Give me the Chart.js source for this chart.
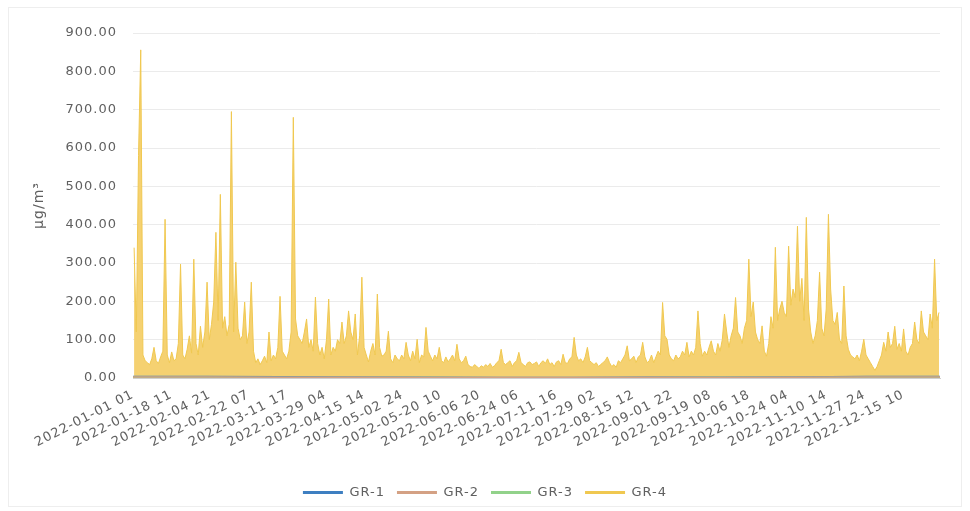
<!DOCTYPE html>
<html>
<head>
<meta charset="utf-8">
<script src="https://cdn.jsdelivr.net/npm/chart.js@4.4.1/dist/chart.umd.min.js"></script>
<style>
  html, body { margin: 0; padding: 0; background: #ffffff; }
  #wrap { width: 970px; height: 511px; position: relative; }
</style>
</head>
<body>
<div id="wrap"><canvas id="c" width="970" height="511"></canvas></div>
<script>
// Hourly PM series for four stations, 2022 (record 0 = 2022-01-01 01)
const seriesNames = ['GR-1', 'GR-2', 'GR-3', 'GR-4'];
const seriesColors = ['#3E7FC1', '#D4A184', '#92D28A', '#F0C850'];

// Labels shown on the time axis, one every 418 hourly records
const tickLabels = [
  '2022-01-01 01', '2022-01-18 11', '2022-02-04 21', '2022-02-22 07',
  '2022-03-11 17', '2022-03-29 04', '2022-04-15 14', '2022-05-02 24',
  '2022-05-20 10', '2022-06-06 20', '2022-06-24 06', '2022-07-11 16',
  '2022-07-29 02', '2022-08-15 12', '2022-09-01 22', '2022-09-19 08',
  '2022-10-06 18', '2022-10-24 04', '2022-11-10 14', '2022-11-27 24',
  '2022-12-15 10'
];
const recordsPerTick = 418;
const totalRecords = 8759;

// GR-4: daily peak concentration (µg/m³), day 0 = 1 Jan
const gr4Daily = [
  340, 120, 580, 856, 60, 45, 40, 35, 50, 80,
  45, 38, 55, 70, 414, 60, 40, 68, 45, 50,
  90, 297, 60, 50, 75, 110, 65, 310, 90, 60,
  135, 80, 120, 250, 100, 140, 198, 380, 150, 479,
  130, 160, 110, 140, 695, 120, 302, 130, 100, 110,
  198, 90, 120, 250, 70, 40, 50, 35, 45, 57,
  40, 120, 45, 60, 50, 80, 213, 70, 60, 50,
  70, 120, 680, 154, 110, 100, 90, 120, 154, 80,
  100, 70, 211, 90, 60, 80, 50, 100, 206, 60,
  80, 70, 100, 90, 146, 90, 110, 175, 120, 100,
  167, 60, 110, 263, 80, 60, 42, 70, 90, 60,
  219, 80, 57, 60, 70, 122, 50, 40, 60, 50,
  45, 60, 50, 93, 60, 45, 70, 50, 101, 40,
  60, 55, 132, 70, 57, 45, 60, 50, 80, 45,
  40, 55, 42, 50, 60, 45, 88, 50, 40, 45,
  57, 35, 30, 28, 35, 30, 25, 32, 28, 35,
  30, 38, 28, 32, 40, 45, 75, 40, 35, 40,
  45, 30, 40, 45, 67, 40, 35, 30, 40, 42,
  35, 38, 42, 30, 40, 45, 38, 50, 35, 40,
  30, 42, 45, 35, 62, 40, 38, 50, 55, 106,
  60, 45, 50, 40, 55, 80, 45, 40, 35, 40,
  30, 35, 40, 45, 55, 40, 30, 35, 28, 45,
  40, 50, 60, 84, 45, 50, 57, 40, 55, 60,
  93, 55, 40, 45, 60, 40, 55, 70, 60, 197,
  110, 101, 60, 50, 45, 60, 50, 55, 70, 60,
  93, 55, 70, 60, 80, 175, 90, 57, 70, 60,
  80, 97, 70, 60, 90, 70, 100, 167, 120, 80,
  110, 130, 210, 120, 110, 90, 130, 150, 310, 160,
  198, 120, 100, 90, 136, 70, 57, 90, 160, 130,
  341, 150, 180, 200, 171, 160, 344, 190, 232, 210,
  396, 200, 260, 150, 419, 180, 120, 90, 110, 150,
  276, 130, 110, 180, 427, 232, 150, 140, 171, 100,
  90, 240, 110, 75, 60, 55, 50, 60, 45, 70,
  101, 60, 50, 40, 30, 20, 30, 45, 60, 93,
  70, 120, 80, 90, 135, 75, 90, 70, 128, 70,
  60, 80, 90, 146, 100, 90, 175, 120, 110, 100,
  167, 130, 310, 150, 171
];

// GR-1 .. GR-3: monthly typical level (µg/m³), Jan..Dec
const gr1Monthly = [4.2, 3.8, 3.1, 2.4, 2.0, 1.6, 1.5, 1.7, 2.2, 2.9, 3.6, 3.9];
const gr2Monthly = [2.8, 2.5, 2.1, 1.7, 1.4, 1.2, 1.1, 1.3, 1.6, 2.0, 2.5, 2.7];
const gr3Monthly = [1.9, 1.7, 1.4, 1.2, 1.0, 0.9, 0.8, 0.9, 1.1, 1.4, 1.7, 1.8];

const dailyPoints = vals => vals.map((v, d) => ({ x: d * 24 + 12, y: v }));
const monthlyPoints = vals => vals.map((v, m) => ({ x: m * totalRecords / (vals.length - 1), y: v }));

const textColor = '#606060';
const fontFamily = '"DejaVu Sans", "Liberation Sans", sans-serif';

// Slightly tracked-out lettering and a faint chart frame
const framePlugin = {
  id: 'frame',
  beforeUpdate(chart) { chart.ctx.letterSpacing = '1px'; },
  beforeDraw(chart) {
    const ctx = chart.ctx;
    ctx.letterSpacing = '1px';
    ctx.save();
    ctx.strokeStyle = '#EEEEEE';
    ctx.lineWidth = 1;
    ctx.strokeRect(8.5, 7.5, chart.width - 17, chart.height - 12);
    ctx.restore();
  }
};

new Chart(document.getElementById('c'), {
  type: 'line',
  plugins: [framePlugin],
  data: {
    datasets: [
      { label: seriesNames[0], data: monthlyPoints(gr1Monthly), borderColor: seriesColors[0], backgroundColor: seriesColors[0], borderWidth: 1.5, pointRadius: 0, fill: false, order: 2 },
      { label: seriesNames[1], data: monthlyPoints(gr2Monthly), borderColor: seriesColors[1], backgroundColor: seriesColors[1], borderWidth: 1.5, pointRadius: 0, fill: false, order: 0 },
      { label: seriesNames[2], data: monthlyPoints(gr3Monthly), borderColor: seriesColors[2], backgroundColor: seriesColors[2], borderWidth: 1.5, pointRadius: 0, fill: false, order: 1 },
      { label: seriesNames[3], data: dailyPoints(gr4Daily), borderColor: seriesColors[3], backgroundColor: '#F5D171', borderWidth: 1, pointRadius: 0, fill: 'origin', tension: 0, order: 3 }
    ]
  },
  options: {
    responsive: false,
    animation: false,
    devicePixelRatio: 1,
    layout: { padding: { left: 0, right: 0, top: 33, bottom: 2 } },
    plugins: {
      tooltip: { enabled: false },
      legend: {
        position: 'bottom',
        labels: {
          boxWidth: 40,
          boxHeight: 3,
          padding: 12,
          color: textColor,
          font: { family: fontFamily, size: 13 },
          generateLabels: chart => chart.data.datasets.map((ds, i) => ({
            text: ds.label,
            fillStyle: ds.borderColor,
            strokeStyle: ds.borderColor,
            lineWidth: 0,
            hidden: false,
            datasetIndex: i,
            fontColor: textColor
          }))
        }
      }
    },
    scales: {
      x: {
        type: 'linear',
        min: 0,
        max: totalRecords,
        afterBuildTicks: axis => {
          axis.ticks = tickLabels.map((_, i) => ({ value: i * recordsPerTick }));
        },
        afterFit: axis => { axis.height = 96; },
        ticks: {
          autoSkip: false,
          minRotation: 27,
          maxRotation: 27,
          padding: 9,
          color: textColor,
          font: { family: fontFamily, size: 13 },
          callback: (value, index) => tickLabels[index]
        },
        grid: { display: false, drawTicks: false },
        border: { display: true, color: '#D0D0D0', width: 1 }
      },
      y: {
        min: 0,
        max: 900,
        afterFit: axis => { axis.width = 133; },
        ticks: {
          stepSize: 100,
          padding: 16,
          color: textColor,
          font: { family: fontFamily, size: 13 },
          callback: v => v.toFixed(2)
        },
        grid: { color: '#EBEBEB', lineWidth: 1, drawTicks: false },
        border: { display: false },
        title: {
          display: true,
          text: 'μg/m³',
          color: textColor,
          font: { family: fontFamily, size: 14 },
          padding: { top: 31, bottom: 0 }
        }
      },
      // empty right-hand margin of the plot
      yRight: {
        position: 'right',
        min: 0,
        max: 900,
        afterFit: axis => { axis.width = 30; },
        ticks: { display: false },
        grid: { display: false, drawTicks: false },
        border: { display: false }
      }
    }
  }
});
</script>
</body>
</html>
